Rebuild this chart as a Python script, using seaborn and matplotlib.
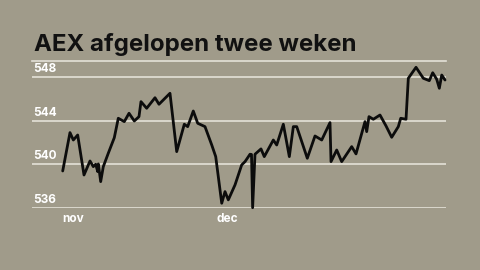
import matplotlib
matplotlib.use("Agg")
import matplotlib.pyplot as plt
import matplotlib.transforms as mtransforms
import seaborn as sns
import pandas as pd

# ---- data ----
days = [0.0, 1.42, 2.07, 2.92, 4.15, 5.32, 5.96, 6.43, 6.82, 6.94, 7.40, 7.91,
        8.88, 10.05, 10.83, 12.0, 12.92, 13.95, 14.86, 15.25, 16.36, 17.98,
        18.76, 20.9, 22.21, 23.69, 24.35, 25.44, 26.3, 27.72, 29.03, 29.81,
        30.98, 31.62, 32.26, 33.57, 34.87, 35.52, 36.49, 36.78, 37.0, 37.46,
        38.63, 39.27, 41.03, 41.69, 42.98, 44.15, 44.93, 45.59, 47.65, 49.15,
        50.46, 52.07, 52.27, 53.38, 54.35, 56.3, 57.14, 58.89, 59.22, 59.67,
        60.51, 61.81, 62.99, 64.09, 65.38, 65.85, 66.88, 67.33, 68.83, 70.25,
        71.42, 72.08, 72.86, 73.37, 73.84, 74.48]
aex = [539.38, 542.91, 542.23, 542.69, 539.01, 540.30, 539.78, 540.0, 539.32,
       540.03, 538.40, 539.78, 541.01, 542.44, 544.23, 543.92, 544.69, 543.98,
       544.38, 545.76, 545.15, 546.12, 545.52, 546.53, 541.16, 543.68, 543.46,
       544.90, 543.77, 543.46, 541.78, 540.70, 536.41, 537.48, 536.72, 538.10,
       539.94, 540.24, 540.92, 540.90, 536.0, 540.92, 541.41, 540.70, 542.23,
       541.77, 543.68, 540.70, 543.46, 543.46, 540.55, 542.60, 542.23, 543.83,
       540.24, 541.31, 540.24, 541.62, 540.95, 543.92, 543.0, 544.38, 544.14,
       544.53, 543.52, 542.48, 543.46, 544.23, 544.14, 547.91, 548.92, 547.91,
       547.69, 548.42, 547.82, 546.99, 548.21, 547.75]
month_ticks = [0, 30]
month_labels = ["nov", "dec"]
y_ticks = [536, 540, 544, 548]
title = "AEX afgelopen twee weken"

df = pd.DataFrame({"day": days, "aex": aex})

BG = "#a09b8a"
GRID = "#e4e1d8"

sns.set_style("white")
plt.rcParams["font.family"] = ["Inter", "DejaVu Sans"]

fig = plt.figure(figsize=(4.8, 2.7), dpi=100, facecolor=BG)
ax = fig.add_axes([32 / 480, 1 - 207.7 / 270, (446 - 32) / 480, (207.7 - 61) / 270])
ax.set_facecolor(BG)

for yv in y_ticks:
    ax.axhline(yv, color=GRID, lw=1.2, zorder=1)

sns.lineplot(data=df, x="day", y="aex", ax=ax, color="#0c0c0c", lw=2.0,
             zorder=3, clip_on=False)

ax.set_xlim(-5.98, 74.67)
ax.set_ylim(536, 549.5)

for s in ["left", "right", "bottom"]:
    ax.spines[s].set_visible(False)
ax.spines["top"].set_color(GRID)
ax.spines["top"].set_linewidth(1.2)

ax.set_yticks([])
trans = mtransforms.blended_transform_factory(ax.transAxes, ax.transData)
for yv in y_ticks:
    ax.annotate(str(yv), xy=(0.002, yv), xycoords=trans, xytext=(0, 1.5),
                textcoords="offset points", ha="left", va="bottom",
                color="white", fontsize=8.5, fontweight="bold")

ax.set_xticks(month_ticks)
ax.set_xticklabels(month_labels, ha="left", color="white", fontsize=8.5,
                   fontweight="bold")
ax.tick_params(axis="x", length=0, pad=4)
ax.set_xlabel("")
ax.set_ylabel("")

fig.text(34 / 480, 1 - 51 / 270, title, ha="left", va="baseline",
         fontsize=17.3, fontweight="bold", color="#111111")

fig.savefig("out.png", dpi=100, facecolor=BG)
